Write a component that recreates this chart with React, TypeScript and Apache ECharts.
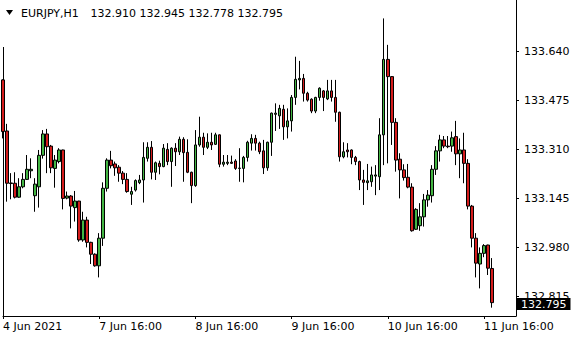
import React, { useEffect, useRef } from "react";
import * as echarts from "echarts";

const symbol = "EURJPY";
const period = "H1";

// Hourly bars, 4 Jun 16:00 -> 11 Jun 18:00
const opens = [
  133.545, 133.373, 133.198, 133.197, 133.150, 133.185, 133.210, 133.239, 133.155, 133.185,
  133.291, 133.363, 133.322, 133.247, 133.270, 133.309, 133.147, 133.154, 133.115, 133.137,
  133.006, 133.073, 132.998, 132.958, 132.919, 133.012, 133.180, 133.275, 133.262, 133.251,
  133.231, 133.210, 133.160, 133.174, 133.199, 133.208, 133.281, 133.318, 133.234, 133.264,
  133.253, 133.311, 133.270, 133.315, 133.303, 133.345, 133.301, 133.234, 133.189, 133.326,
  133.352, 133.318, 133.335, 133.328, 133.360, 133.261, 133.264, 133.268, 133.272, 133.247,
  133.247, 133.284, 133.332, 133.348, 133.332, 133.306, 133.249, 133.335, 133.429, 133.424,
  133.446, 133.387, 133.407, 133.486, 133.545, 133.550, 133.500, 133.480, 133.440, 133.486,
  133.508, 133.481, 133.508, 133.486, 133.436, 133.286, 133.309, 133.309, 133.284, 133.270,
  133.208, 133.199, 133.202, 133.221, 133.219, 133.360, 133.614, 133.556, 133.402, 133.278,
  133.242, 133.217, 133.184, 133.042, 133.054, 133.084, 133.141, 133.155, 133.244, 133.306,
  133.343, 133.322, 133.322, 133.354, 133.296, 133.309, 133.264, 133.120, 133.012, 132.925,
  132.961, 132.989, 132.910,
];
const highs = [
  133.547, 133.397, 133.231, 133.234, 133.214, 133.231, 133.292, 133.281, 133.214, 133.309,
  133.376, 133.380, 133.326, 133.292, 133.315, 133.310, 133.169, 133.157, 133.171, 133.138,
  133.101, 133.084, 133.000, 132.961, 133.029, 133.200, 133.281, 133.306, 133.270, 133.258,
  133.238, 133.231, 133.185, 133.210, 133.225, 133.335, 133.335, 133.339, 133.270, 133.273,
  133.329, 133.332, 133.318, 133.332, 133.354, 133.352, 133.345, 133.236, 133.376, 133.421,
  133.367, 133.365, 133.367, 133.367, 133.361, 133.292, 133.292, 133.290, 133.278, 133.315,
  133.289, 133.340, 133.362, 133.360, 133.337, 133.343, 133.337, 133.435, 133.466, 133.461,
  133.461, 133.449, 133.494, 133.623, 133.609, 133.565, 133.505, 133.483, 133.488, 133.520,
  133.511, 133.545, 133.545, 133.545, 133.438, 133.335, 133.332, 133.311, 133.289, 133.273,
  133.242, 133.262, 133.253, 133.258, 133.416, 133.752, 133.663, 133.558, 133.416, 133.298,
  133.261, 133.262, 133.197, 133.113, 133.130, 133.161, 133.174, 133.258, 133.322, 133.360,
  133.356, 133.356, 133.371, 133.407, 133.348, 133.367, 133.278, 133.124, 133.029, 132.981,
  132.992, 132.990, 132.945,
];
const lows = [
  133.348, 133.135, 133.143, 133.146, 133.148, 133.180, 133.208, 133.214, 133.101, 133.115,
  133.280, 133.231, 133.231, 133.182, 133.264, 133.109, 133.143, 133.045, 133.068, 133.000,
  133.000, 132.981, 132.925, 132.916, 132.880, 132.986, 133.169, 133.247, 133.222, 133.202,
  133.194, 133.165, 133.124, 133.169, 133.194, 133.132, 133.270, 133.210, 133.208, 133.227,
  133.251, 133.258, 133.185, 133.255, 133.292, 133.202, 133.231, 133.130, 133.185, 133.320,
  133.292, 133.312, 133.309, 133.326, 133.251, 133.253, 133.258, 133.262, 133.242, 133.202,
  133.200, 133.270, 133.307, 133.307, 133.295, 133.228, 133.239, 133.289, 133.373, 133.380,
  133.343, 133.348, 133.371, 133.461, 133.513, 133.472, 133.472, 133.433, 133.433, 133.475,
  133.440, 133.477, 133.472, 133.404, 133.270, 133.281, 133.284, 133.261, 133.258, 133.174,
  133.124, 133.174, 133.185, 133.157, 133.174, 133.258, 133.264, 133.326, 133.236, 133.146,
  133.206, 133.180, 133.034, 133.040, 133.037, 133.051, 133.118, 133.132, 133.225, 133.270,
  133.315, 133.315, 133.303, 133.258, 133.214, 133.197, 133.109, 132.981, 132.880, 132.843,
  132.948, 132.888, 132.778,
];
const closes = [
  133.371, 133.197, 133.196, 133.150, 133.185, 133.210, 133.244, 133.244, 133.194, 133.291,
  133.363, 133.320, 133.249, 133.275, 133.309, 133.146, 133.154, 133.120, 133.137, 133.006,
  133.073, 132.998, 132.958, 132.919, 133.012, 133.180, 133.275, 133.256, 133.249, 133.231,
  133.210, 133.169, 133.169, 133.206, 133.208, 133.284, 133.318, 133.234, 133.266, 133.253,
  133.315, 133.270, 133.315, 133.303, 133.345, 133.300, 133.234, 133.189, 133.326, 133.352,
  133.318, 133.335, 133.326, 133.360, 133.261, 133.268, 133.268, 133.264, 133.247, 133.248,
  133.284, 133.335, 133.348, 133.332, 133.303, 133.249, 133.335, 133.433, 133.433, 133.449,
  133.387, 133.407, 133.486, 133.547, 133.550, 133.500, 133.477, 133.440, 133.486, 133.517,
  133.486, 133.508, 133.486, 133.436, 133.286, 133.303, 133.303, 133.284, 133.270, 133.208,
  133.200, 133.205, 133.225, 133.225, 133.360, 133.614, 133.556, 133.402, 133.275, 133.242,
  133.216, 133.184, 133.037, 133.109, 133.084, 133.141, 133.157, 133.244, 133.306, 133.343,
  133.322, 133.320, 133.350, 133.296, 133.309, 133.264, 133.120, 133.012, 132.928, 132.961,
  132.987, 132.911, 132.795,
];

const timeLabels = ["4 Jun 2021", "7 Jun 16:00", "8 Jun 16:00", "9 Jun 16:00", "10 Jun 16:00", "11 Jun 16:00"];
const timeLabelBars = [0, 24, 48, 72, 96, 120];
const slotCount = 129;

const priceTicks = [132.815, 132.98, 133.145, 133.31, 133.475, 133.64];
const priceMin = 132.75;
const priceMax = 133.814;

const FONT = "DejaVu Sans";

export default function App() {
  const ref = useRef<HTMLDivElement>(null);

  useEffect(() => {
    if (!ref.current) return;
    const chart = echarts.init(ref.current, null, { renderer: "svg" });

    const categories: string[] = [];
    for (let i = 0; i < slotCount; i++) {
      const k = timeLabelBars.indexOf(i);
      categories.push(k >= 0 ? timeLabels[k] : "");
    }
    const candles = opens.map((o, i) => [o, closes[i], lows[i], highs[i]]);
    const n = opens.length - 1;
    const lastClose = closes[n];
    const header = [opens[n], highs[n], lows[n], closes[n]].map((v) => v.toFixed(3)).join(" ");
    const showLabel = (_idx: number, val: string) => val !== "";

    chart.setOption({
      animation: false,
      backgroundColor: "#fff",
      grid: { left: 3, right: 64, top: 0, bottom: 24, containLabel: false },
      xAxis: {
        type: "category",
        data: categories,
        boundaryGap: false,
        axisLine: { show: true, lineStyle: { color: "#000", width: 1 } },
        axisTick: { show: true, interval: showLabel, length: 3, lineStyle: { color: "#000" } },
        axisLabel: {
          interval: showLabel,
          align: "left",
          margin: 5,
          color: "#000",
          fontSize: 11,
          fontFamily: FONT,
        },
        splitLine: { show: false },
      },
      yAxis: {
        type: "value",
        position: "right",
        min: priceMin,
        max: priceMax,
        axisLine: { show: true, lineStyle: { color: "#000", width: 1 } },
        axisTick: { show: true, length: 3, customValues: priceTicks, lineStyle: { color: "#000" } },
        axisLabel: {
          customValues: priceTicks,
          margin: 8,
          color: "#000",
          fontSize: 11,
          fontFamily: FONT,
          formatter: (v: number) => v.toFixed(3),
        },
        splitLine: { show: false },
      },
      graphic: [
        {
          type: "line",
          shape: { x1: 3.5, y1: 47, x2: 3.5, y2: 316 },
          style: { stroke: "#000", lineWidth: 1 },
          z: 1,
        },
        {
          type: "polygon",
          shape: { points: [[6, 10], [13, 10], [9.5, 15]] },
          style: { fill: "#000" },
        },
        {
          type: "text",
          x: 21,
          y: 13,
          style: { text: `${symbol},${period}`, font: `11px "${FONT}"`, fill: "#000", verticalAlign: "middle" },
        },
        {
          type: "text",
          x: 90.5,
          y: 13,
          style: { text: header, font: `11px "${FONT}"`, fill: "#000", verticalAlign: "middle" },
        },
      ],
      series: [
        {
          type: "candlestick",
          data: candles,
          barWidth: 3,
          clip: false,
          itemStyle: {
            color: "#43b543",
            color0: "#d41c1c",
            borderColor: "#000",
            borderColor0: "#000",
            borderColorDoji: "#000",
            borderWidth: 1,
          },
        },
        {
          type: "line",
          data: [],
          z: 20,
          silent: true,
          markLine: {
            silent: true,
            z: 20,
            symbol: ["none", "none"],
            lineStyle: { color: "rgba(0,0,0,0)", width: 1, type: "solid" },
            label: {
              show: true,
              position: "end",
              distance: 1,
              formatter: lastClose.toFixed(3),
              backgroundColor: "#000",
              color: "#fff",
              padding: [1, 4, 0, 4],
              fontSize: 11,
              fontFamily: FONT,
            },
            emphasis: { disabled: true },
            data: [{ yAxis: lastClose }],
          },
        },
      ],
    });

    return () => chart.dispose();
  }, []);

  return (
    <div
      ref={ref}
      style={{ position: "absolute", left: 0, top: 0, width: 580, height: 340, background: "#fff" }}
    />
  );
}
